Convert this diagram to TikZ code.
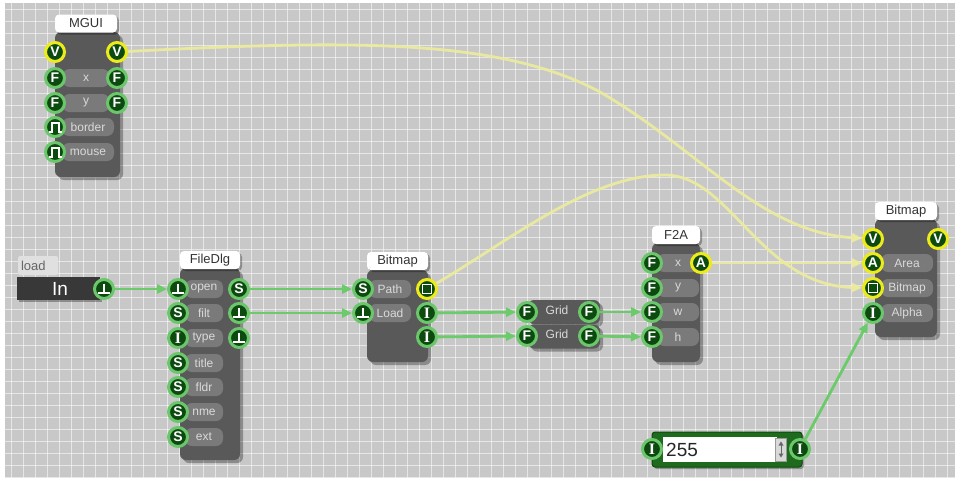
\documentclass[tikz,border=0pt]{standalone}
\usepackage{fontspec}
\setmainfont{Liberation Sans}
\newfontfamily\serifI{Liberation Serif}
\usetikzlibrary{arrows.meta,shadows}
\definecolor{bgc}{HTML}{C8C8C8}
\definecolor{bodyc}{HTML}{595959}
\definecolor{barc}{HTML}{7A7A7A}
\definecolor{bartext}{HTML}{DADADA}
\definecolor{pfill}{HTML}{0D4A10}
\definecolor{pgreen}{HTML}{6CC66C}
\definecolor{pyellow}{HTML}{EDEB1C}
\definecolor{wgreen}{HTML}{6BCB6B}
\definecolor{wyellow}{HTML}{ECEC9C}
\definecolor{cgreen}{HTML}{1E6B1E}
\definecolor{cdark}{HTML}{0F4A0F}
\begin{document}
\begin{tikzpicture}[x=1pt,y=-1pt,
  gridline/.style={white,opacity=0.55,line width=0.7pt},
  port/.style={circle,fill=pfill,draw=pgreen,line width=3pt,minimum size=19pt,inner sep=0pt,text=white,font=\fontsize{14}{14}\selectfont\bfseries},
  yport/.style={port,draw=pyellow},
  lbl/.style={fill=barc,rounded corners=7pt,minimum height=18pt,inner sep=1pt,text=bartext,font=\fontsize{12}{12}\selectfont},
  tabst/.style={fill=white,rounded corners=4pt,minimum height=18pt,inner sep=1pt,text=black!80,font=\fontsize{13}{13}\selectfont,drop shadow={shadow xshift=2pt,shadow yshift=-2pt,opacity=0.3,fill=black}},
  blk/.style={fill=bodyc,rounded corners=6pt,inner sep=0pt,drop shadow={shadow xshift=3pt,shadow yshift=-3pt,opacity=0.3,fill=black}},
  gw/.style={draw=wgreen,line width=2.8pt,-{Triangle[length=10pt,width=9pt]}},
  yw/.style={draw=wyellow,line width=2.8pt,opacity=0.9,-{Triangle[length=10pt,width=9pt]}},
  sym/.style={white,line width=2pt}]
\newcommand\trigsym[1]{\draw[sym,shift={(#1.center)}] (0,-5.5) -- (0,3.5) (-6,3.5) -- (6,3.5);}
\newcommand\pulsesym[1]{\draw[sym,shift={(#1.center)}] (-6.5,4.5) -- (-3.5,4.5) -- (-3.5,-4.5) -- (3.5,-4.5) -- (3.5,4.5) -- (6.5,4.5);}
\newcommand\sqsym[1]{\draw[white,line width=1.8pt,shift={(#1.center)}] (-4.5,-4.5) rectangle (4.5,4.5);}
\newcommand\Ilet{{\serifI\bfseries\fontsize{16}{16}\selectfont I}}
\useasboundingbox (0,0) rectangle (958,482);
\fill[white] (0,0) rectangle (958,482);
\fill[bgc] (5,3) rectangle (955,478);
\foreach \x in {11,23,...,955} \draw[gridline] (\x,3) -- (\x,478);
\foreach \y in {9,21,...,477} \draw[gridline] (5,\y) -- (955,\y);

% ---------- MGUI ----------
\node[blk,minimum width=65,minimum height=145] (mguib) at (87.5,104.5) {};
\node[tabst,minimum width=62] (mguit) at (86,23.5) {MGUI};
\node[lbl,minimum width=47] (mlx) at (86,78) {x};
\node[lbl,minimum width=47] (mly) at (86,103) {y};
\node[lbl,minimum width=52] (mlb) at (88,127) {border};
\node[lbl,minimum width=52] (mlm) at (88,152) {mouse};
\node[yport] (mL1) at (55,52) {V};
\node[yport] (mR1) at (117,52) {V};
\node[port] (mL2) at (55,78) {F};
\node[port] (mR2) at (117,78) {F};
\node[port] (mL3) at (55,103) {F};
\node[port] (mR3) at (117,103) {F};
\node[port] (mL4) at (55,127) {};
\node[port] (mL5) at (55,152) {};
\pulsesym{mL4}
\pulsesym{mL5}

% ---------- load / In ----------
\node[fill=black!12,rounded corners=2pt,minimum width=40,minimum height=19,inner sep=2pt,text=black!60,font=\fontsize{13}{13}\selectfont,text width=34pt,align=left] (loadt) at (38,265.5) {load};
\node[fill=black!78,minimum width=83,minimum height=23,inner sep=0pt,drop shadow={shadow xshift=2pt,shadow yshift=-2pt,opacity=0.3,fill=black}] (inbar) at (58.5,288.5) {};
\node[text=white,font=\fontsize{19}{19}\selectfont] (intext) at (60,288.5) {In};
\node[port] (inP) at (104,289) {};
\trigsym{inP}

% ---------- FileDlg ----------
\node[blk,minimum width=60,minimum height=192] (fdb) at (210,364) {};
\node[tabst,minimum width=60] (fdt) at (210,260) {FileDlg};
\foreach \n/\t/\yy in {1/open/289,2/filt/313,3/type/338,4/title/363,5/fldr/387,6/nme/412,7/ext/437}
  \node[lbl,minimum width=38] (fl\n) at (204,\yy) {\t};
\node[port] (fL1) at (178,289) {};
\node[port] (fL2) at (178,313) {S};
\node[port] (fL3) at (178,338) {\Ilet};
\node[port] (fL4) at (178,363) {S};
\node[port] (fL5) at (178,387) {S};
\node[port] (fL6) at (178,412) {S};
\node[port] (fL7) at (178,437) {S};
\node[port] (fR1) at (239,289) {S};
\node[port] (fR2) at (239,313) {};
\node[port] (fR3) at (239,338) {};
\trigsym{fL1}
\trigsym{fR2}
\trigsym{fR3}

% ---------- Bitmap (middle) ----------
\node[blk,minimum width=61,minimum height=92] (bmb) at (397.5,316) {};
\node[tabst,minimum width=61] (bmt) at (397.5,261) {Bitmap};
\node[lbl,minimum width=42] (blp) at (390,289) {Path};
\node[lbl,minimum width=42] (bll) at (390,313) {Load};
\node[port] (bL1) at (363,289) {S};
\node[port] (bL2) at (363,313) {};
\trigsym{bL2}
\node[yport] (bR1) at (427,289) {};
\sqsym{bR1}
\node[port] (bR2) at (427,313) {\Ilet};
\node[port] (bR3) at (427,337) {\Ilet};

% ---------- Grid ----------
\node[blk,minimum width=72,minimum height=24] (g1b) at (564,312) {};
\node[blk,minimum width=72,minimum height=24] (g2b) at (564,336.5) {};
\node[text=bartext,font=\fontsize{12}{12}\selectfont] (g1t) at (557,310) {Grid};
\node[text=bartext,font=\fontsize{12}{12}\selectfont] (g2t) at (557,334) {Grid};
\node[port] (gL1) at (527,312) {F};
\node[port] (gR1) at (589,312) {F};
\node[port] (gL2) at (527,336) {F};
\node[port] (gR2) at (589,336) {F};

% ---------- F2A ----------
\node[blk,minimum width=48,minimum height=119] (ab) at (676,302.5) {};
\node[tabst,minimum width=48] (at) at (676,235) {F2A};
\foreach \n/\t/\yy in {1/x/263,2/y/288,3/w/312,4/h/337}
  \node[lbl,minimum width=42] (al\n) at (678,\yy) {\t};
\node[port] (aL1) at (652,263) {F};
\node[port] (aL2) at (652,288) {F};
\node[port] (aL3) at (652,312) {F};
\node[port] (aL4) at (652,337) {F};
\node[yport] (aR1) at (701,263) {A};

% ---------- Bitmap (right) ----------
\node[blk,minimum width=62,minimum height=118] (rb) at (906,278) {};
\node[tabst,minimum width=62] (rt) at (906,211) {Bitmap};
\node[lbl,minimum width=52] (rl2) at (907,263) {Area};
\node[lbl,minimum width=52] (rl3) at (907,288) {Bitmap};
\node[lbl,minimum width=52] (rl4) at (907,313) {Alpha};
\node[yport] (rL1) at (873,239) {V};
\node[yport] (rL2) at (873,263) {A};
\node[yport] (rL3) at (873,288) {};
\sqsym{rL3}
\node[port] (rL4) at (873,313) {\Ilet};
\node[yport] (rR1) at (938,239) {V};

% ---------- constant 255 ----------
\node[fill=cgreen,draw=cdark,line width=1pt,rounded corners=3pt,minimum width=150,minimum height=35,inner sep=0pt,drop shadow={shadow xshift=2pt,shadow yshift=-2pt,opacity=0.3,fill=black}] (cb) at (727,449.5) {};
\node[fill=white,minimum width=114,minimum height=25,inner sep=0pt] (cf) at (720,449.5) {};
\node[anchor=west,font=\fontsize{19}{19}\selectfont,text=black!85,inner sep=0pt] (cv) at (666,449.5) {255};
\node[fill=black!15,draw=black!40,line width=0.4pt,minimum width=11,minimum height=23,inner sep=0pt] (cs) at (781,449.5) {};
\draw[black!60,line width=0.8pt,shift={(cs.center)}] (0,-5) -- (0,5);
\fill[black!60,shift={(cs.center)}] (-2.5,-4) -- (2.5,-4) -- (0,-8) -- cycle (-2.5,4) -- (2.5,4) -- (0,8) -- cycle;
\node[port] (cL) at (652,449) {\Ilet};
\node[port] (cR) at (800,449) {\Ilet};

% ---------- green wires ----------
\draw[gw] (inP) -- (fL1);
\draw[gw] (fR1) -- (bL1);
\draw[gw] (fR2) -- (bL2);
\draw[gw] (bR2) -- (gL1);
\draw[gw] (bR3) -- (gL2);
\draw[gw] (gR1) -- (aL3);
\draw[gw] (gR2) -- (aL4);
\draw[gw] (cR) -- (rL4);

% ---------- yellow wires ----------
\draw[yw] (mR1) .. controls (350,40) and (500,38) .. (600,92) .. controls (700,150) and (760,232) .. (rL1);
\draw[yw] (bR1) .. controls (510,240) and (590,175) .. (665,175) .. controls (730,175) and (760,285) .. (rL3);
\draw[yw] (aR1) -- (rL2);
\end{tikzpicture}
\end{document}
